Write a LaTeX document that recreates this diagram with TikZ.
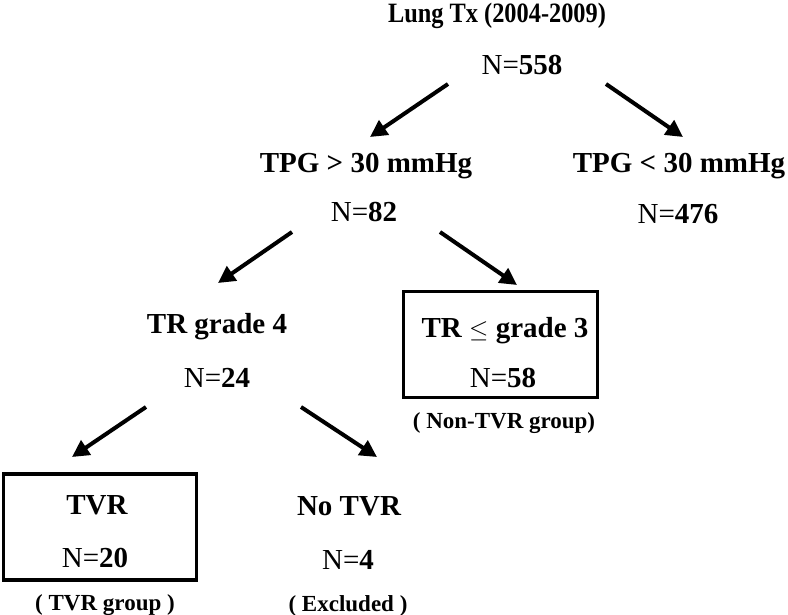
\documentclass[tikz,border=0pt]{standalone}
\usepackage{fontspec}
\setmainfont{Liberation Serif}
\usetikzlibrary{arrows.meta}
\newcommand\Ncount[1]{{\mdseries N=}#1}
\begin{document}
\begin{tikzpicture}[x=1pt,y=-1pt,
  lbl/.style={font=\bfseries\fontsize{29}{31}\selectfont, anchor=base, inner sep=0pt},
  ttl/.style={font=\bfseries\fontsize{28}{30}\selectfont, anchor=base, inner sep=0pt},
  note/.style={font=\bfseries\fontsize{23}{25}\selectfont, anchor=base, inner sep=0pt},
  arr/.style={line width=4pt, -{Triangle[length=17pt,width=17pt]}},
  boxed/.style={draw, line width=3.5pt, inner sep=0pt}]
\useasboundingbox (0,0) rectangle (788,615);
% boxes
\node[boxed, minimum width=194pt, minimum height=106pt] (box58) at (500.5,344.5) {};
\node[boxed, minimum width=193pt, minimum height=106pt] (box20) at (100,527) {};
% texts
\node[ttl] (root) at (497,23) {\scalebox{0.87}[1]{Lung Tx (2004-2009)}};
\node[lbl] (rootN) at (522,75) {\Ncount{558}};
\node[lbl] (hi) at (366,173) {TPG > 30 mmHg};
\node[lbl] (hiN) at (364,222) {\Ncount{82}};
\node[lbl] (lo) at (679,173) {TPG < 30 mmHg};
\node[lbl] (loN) at (678,223) {\Ncount{476}};
\node[lbl] (tr4) at (217,333) {TR grade 4};
\node[lbl] (tr4N) at (217,387) {\Ncount{24}};
\node[lbl] (tr3) at (505,337) {TR $\leq$ grade 3};
\node[lbl] (tr3N) at (503,387) {\Ncount{58}};
\node[note] (tr3g) at (504,428) {( Non-TVR group)};
\node[lbl] (tvr) at (97,514) {TVR};
\node[lbl] (tvrN) at (95,567) {\Ncount{20}};
\node[note] (tvrg) at (105,610) {( TVR group )};
\node[lbl] (ntvr) at (349,515) {No TVR};
\node[lbl] (ntvrN) at (348,569) {\Ncount{4}};
\node[note] (ntvrg) at (348,611) {( Excluded )};
% arrow end points
\coordinate (a1s) at (448,84); \coordinate (a1e) at (370,137);
\coordinate (a2s) at (606,84); \coordinate (a2e) at (683,137);
\coordinate (a3s) at (292,232); \coordinate (a3e) at (218,283);
\coordinate (a4s) at (440,232); \coordinate (a4e) at (517,285);
\coordinate (a5s) at (146,407); \coordinate (a5e) at (72,457);
\coordinate (a6s) at (301,407); \coordinate (a6e) at (377,457);
\draw[arr] (a1s) -- (a1e);
\draw[arr] (a2s) -- (a2e);
\draw[arr] (a3s) -- (a3e);
\draw[arr] (a4s) -- (a4e);
\draw[arr] (a5s) -- (a5e);
\draw[arr] (a6s) -- (a6e);
\end{tikzpicture}
\end{document}
